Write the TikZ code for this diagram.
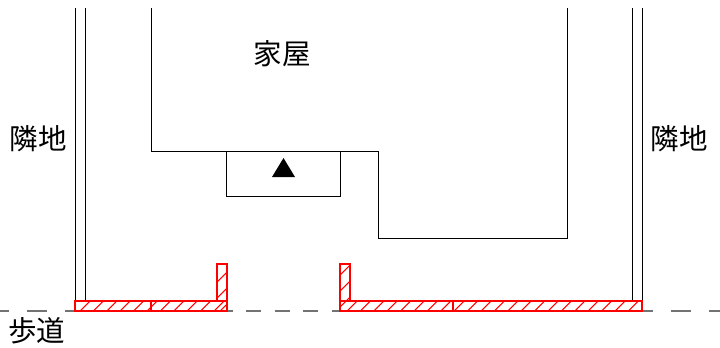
\documentclass[tikz,border=0pt]{standalone}
\usepackage{fontspec}
\newfontfamily\cjk{Noto Sans CJK JP}
\tikzset{
  plan/.style={draw=black,line width=0.75pt},
  redbox/.style={draw=red,line width=1.3pt},
  hatchline/.style={draw=red,line width=0.8pt},
  walkouter/.style={draw=black!55,line width=0.9pt,dash pattern=on 15pt off 13.5pt},
  walkinner/.style={draw=black!55,line width=0.9pt,dash pattern=on 11.25pt off 10.1pt},
  lab/.style={font=\cjk\fontsize{21.4pt}{24pt}\selectfont,inner sep=0pt,text=black}
}
\begin{document}
\begin{tikzpicture}[x=0.75pt,y=-0.75pt]
\useasboundingbox (0,0) rectangle (720,347);
\fill[white] (0,0) rectangle (720,347);
\draw[walkouter] (-11,311) -- (75,311);
\draw[walkinner] (218,311) -- (340,311);
\draw[walkouter] (633,311) -- (725,311);
\draw[plan] (75.5,8) -- (75.5,301);
\draw[plan] (85,8) -- (85,301);
\draw[plan] (632.5,8) -- (632.5,301);
\draw[plan] (642,8) -- (642,301);
\draw[plan] (151,8) -- (151,151.5) -- (378,151.5) -- (378,238.5) -- (567,238.5) -- (567,8);
\draw[plan] (226.5,151.5) -- (226.5,196) -- (340,196) -- (340,151.5);
\fill[black] (272,177) -- (295,177) -- (283.5,158) -- cycle;
\node[lab] (house) at (282.5,54) {家屋};
\node[lab] (nl) at (38,139) {隣地};
\node[lab] (nr) at (679,139) {隣地};
\node[lab] (walkway) at (37,331) {歩道};
\begin{scope}
\clip (75,301) rectangle (227,311) (217,264) rectangle (227,301);
\foreach \i in {0,...,16} \draw[hatchline] ({80+13.4*\i},311) -- ({90+13.4*\i},301);
\foreach \i in {0,...,3} \draw[hatchline] (217,{282+16*\i}) -- (227,{272+16*\i});
\end{scope}
\begin{scope}
\clip (340,301) rectangle (642,311) (340,264) rectangle (350,301);
\foreach \i in {0,...,23} \draw[hatchline] ({347+13.4*\i},311) -- ({357+13.4*\i},301);
\foreach \i in {0,...,3} \draw[hatchline] (340,{275+16*\i}) -- (350,{265+16*\i});
\end{scope}
\draw[redbox] (75,301) rectangle (227,311);
\draw[redbox] (217,264) rectangle (227,301);
\draw[redbox] (340,301) rectangle (642,311);
\draw[redbox] (340,264) rectangle (350,301);
\draw[red,line width=0.9pt] (151,301) -- (151,311);
\draw[red,line width=0.9pt] (453,301) -- (453,311);
\end{tikzpicture}
\end{document}
